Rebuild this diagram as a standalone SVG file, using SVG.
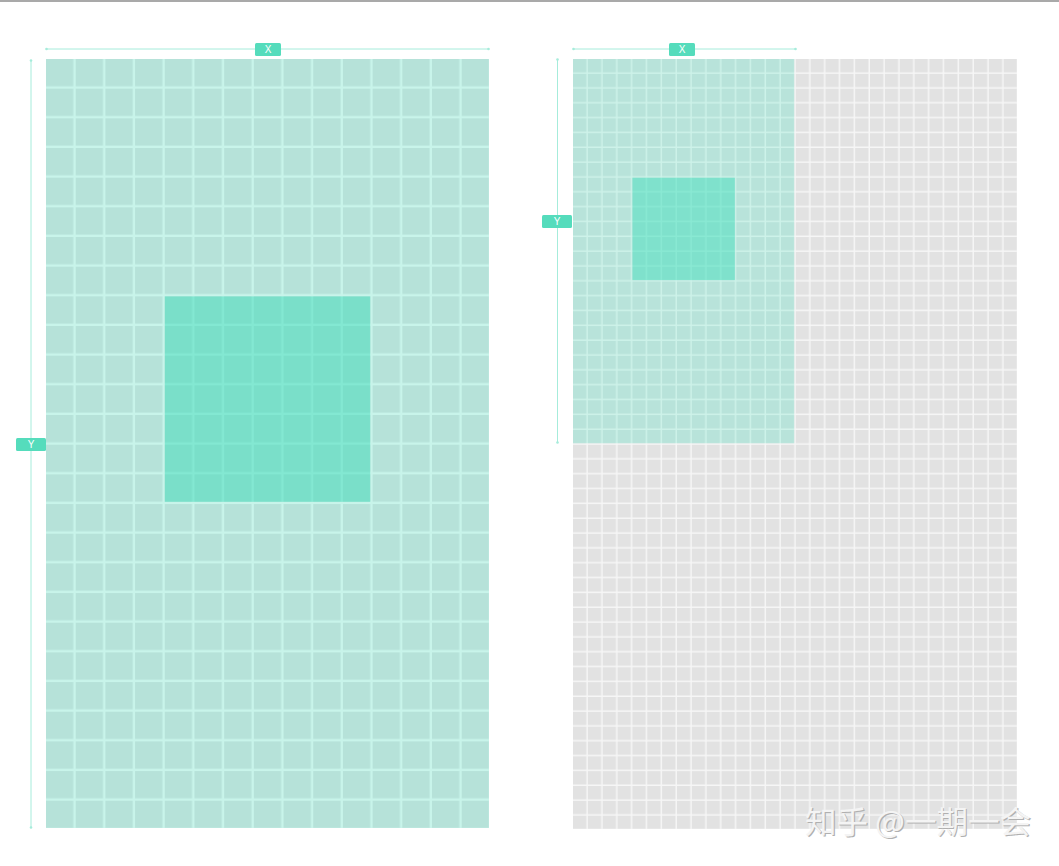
<svg xmlns="http://www.w3.org/2000/svg" width="1059" height="866" viewBox="0 0 1059 866">
<style>
.dim{stroke:#a6ecdb;stroke-width:1;fill:none}
.cap{fill:#a6ecdb}
.tag{fill:#55dcbc}
.tagt{fill:#ffffff;font-family:"Liberation Sans",Arial,sans-serif;font-size:10px;text-anchor:middle}
.wm{font-family:"Noto Sans CJK SC","Noto Sans",sans-serif;font-size:31px}
</style>
<defs>
<pattern id="gL" patternUnits="userSpaceOnUse" x="46" y="59" width="29.693" height="29.669">
<rect width="29.693" height="29.669" fill="#c8f4ea"/>
<rect width="27.293" height="27.269" fill="#b6e2d9"/>
</pattern>
<pattern id="gG" patternUnits="userSpaceOnUse" x="573" y="59" width="14.85" height="14.837">
<rect width="14.85" height="14.837" fill="#f6f6f6"/>
<rect width="13.35" height="13.337" fill="#e2e2e2"/>
</pattern>
<pattern id="gM" patternUnits="userSpaceOnUse" x="573" y="59" width="14.85" height="14.837">
<rect width="14.85" height="14.837" fill="#cdf2e9"/>
<rect width="13.35" height="13.337" fill="#b8e3da"/>
</pattern>
</defs>
<rect width="1059" height="866" fill="#ffffff"/>
<line x1="0" y1="1" x2="1059" y2="1" stroke="#8c8c8c" stroke-width="1.5"/>

<g id="left-panel">
<rect x="46" y="59" width="443" height="769" fill="url(#gL)"/>
<rect id="left-highlight" x="164.8" y="296.4" width="205.4" height="205.4" fill="#3ddcb9" fill-opacity="0.5"/>
</g>

<g id="right-panel">
<rect x="573" y="59" width="444" height="770" fill="url(#gG)"/>
<rect x="573" y="59" width="221.25" height="384.3" fill="url(#gM)"/>
<rect id="right-highlight" x="632.4" y="177.7" width="102.45" height="102.4" fill="#45e0bd" fill-opacity="0.5"/>
</g>

<g id="connectors">
<line class="dim" x1="46" y1="49" x2="489" y2="49"/>
<circle class="cap" cx="46.5" cy="49" r="1.3"/>
<circle class="cap" cx="488.5" cy="49" r="1.3"/>
<line class="dim" x1="31" y1="60" x2="31" y2="828"/>
<circle class="cap" cx="31" cy="60.5" r="1.3"/>
<circle class="cap" cx="31" cy="827.5" r="1.3"/>
<line class="dim" x1="573" y1="49" x2="796" y2="49"/>
<circle class="cap" cx="573.5" cy="49" r="1.3"/>
<circle class="cap" cx="795.5" cy="49" r="1.3"/>
<line class="dim" x1="557.5" y1="59" x2="557.5" y2="443"/>
<circle class="cap" cx="557.5" cy="59.5" r="1.3"/>
<circle class="cap" cx="557.5" cy="442.5" r="1.3"/>
</g>

<g id="label-x-left">
<rect class="tag" x="255" y="43" width="26" height="13" rx="1.5"/>
<text class="tagt" x="268" y="53">X</text>
</g>
<g id="label-y-left">
<rect class="tag" x="16" y="438" width="30" height="13" rx="1.5"/>
<text class="tagt" x="31" y="448">Y</text>
</g>
<g id="label-x-right">
<rect class="tag" x="669" y="43" width="26" height="13" rx="1.5"/>
<text class="tagt" x="682" y="53">X</text>
</g>
<g id="label-y-right">
<rect class="tag" x="542" y="215" width="30" height="13" rx="1.5"/>
<text class="tagt" x="557" y="225">Y</text>
</g>

<g id="watermark">
<text class="wm" x="806.2" y="834.2" fill="#b0b0b0" textLength="226" lengthAdjust="spacingAndGlyphs">知乎 @一期一会</text>
<text class="wm" x="805" y="833" fill="#f4f4f4" textLength="226" lengthAdjust="spacingAndGlyphs">知乎 @一期一会</text>
</g>
</svg>
